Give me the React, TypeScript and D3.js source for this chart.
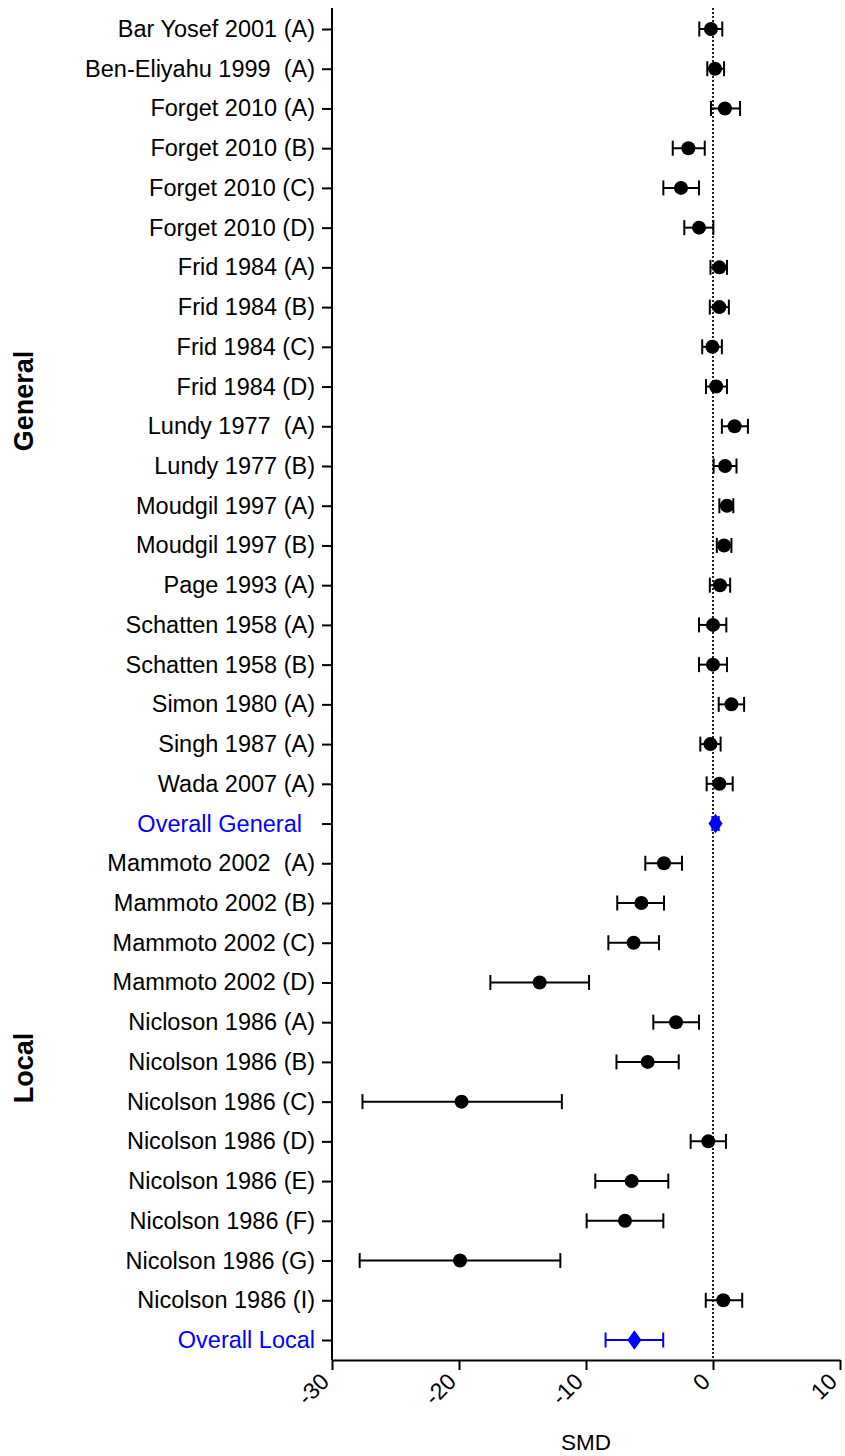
import { useRef, useEffect } from 'react';
import * as d3 from 'd3';

const studies = [
  'Bar Yosef 2001 (A)', 'Ben-Eliyahu 1999  (A)', 'Forget 2010 (A)', 'Forget 2010 (B)',
  'Forget 2010 (C)', 'Forget 2010 (D)', 'Frid 1984 (A)', 'Frid 1984 (B)', 'Frid 1984 (C)',
  'Frid 1984 (D)', 'Lundy 1977  (A)', 'Lundy 1977 (B)', 'Moudgil 1997 (A)', 'Moudgil 1997 (B)',
  'Page 1993 (A)', 'Schatten 1958 (A)', 'Schatten 1958 (B)', 'Simon 1980 (A)', 'Singh 1987 (A)',
  'Wada 2007 (A)', 'Overall General  ', 'Mammoto 2002  (A)', 'Mammoto 2002 (B)',
  'Mammoto 2002 (C)', 'Mammoto 2002 (D)', 'Nicloson 1986 (A)', 'Nicolson 1986 (B)',
  'Nicolson 1986 (C)', 'Nicolson 1986 (D)', 'Nicolson 1986 (E)', 'Nicolson 1986 (F)',
  'Nicolson 1986 (G)', 'Nicolson 1986 (I)', 'Overall Local',
];
const smd = [
  -0.16, 0.16, 0.94, -1.94, -2.52, -1.1, 0.5, 0.5, -0.05, 0.25, 1.7, 0.95, 1.1, 0.87, 0.55,
  0, 0, 1.45, -0.2, 0.5, 0.2, -3.86, -5.64, -6.25, -13.65, -2.91, -5.14, -19.8, -0.37, -6.4,
  -6.93, -19.92, 0.81, -6.19,
];
const lower = [
  -1.08, -0.45, -0.16, -3.17, -3.91, -2.26, -0.2, -0.25, -0.85, -0.55, 0.7, 0.05, 0.5, 0.3, -0.25,
  -1.1, -1.1, 0.45, -1.0, -0.5, -0.05, -5.33, -7.54, -8.24, -17.53, -4.7, -7.6, -27.6, -1.76, -9.27,
  -9.95, -27.82, -0.57, -8.46,
];
const upper = [
  0.73, 0.87, 2.13, -0.65, -1.1, 0.03, 1.1, 1.25, 0.7, 1.1, 2.75, 1.85, 1.6, 1.45, 1.35,
  1.05, 1.1, 2.45, 0.6, 1.55, 0.45, -2.44, -3.86, -4.25, -9.76, -1.1, -2.7, -11.9, 1.02, -3.52,
  -3.91, -12.02, 2.3, -3.92,
];
const overallRows = ['Overall General  ', 'Overall Local'];
const xTicks = [-30, -20, -10, 0, 10];

export default function App() {
  const svgRef = useRef<SVGSVGElement | null>(null);

  useEffect(() => {
    if (!svgRef.current) return;
    const svg = d3.select(svgRef.current);
    svg.selectAll('*').remove();

    const left = 332, right = 840, top = 8, bottom = 1360;
    const font = 'Arial, "Liberation Sans", sans-serif';

    const x = d3.scaleLinear().domain([-30, 10]).range([left, right]);
    const y = d3.scalePoint<string>().domain(studies).range([29, 1340]);

    const rows = studies.map((s, i) => ({
      label: s, est: smd[i], lo: lower[i], hi: upper[i], overall: overallRows.includes(s),
    }));

    // zero reference line
    svg.append('line')
      .attr('x1', x(0)).attr('x2', x(0))
      .attr('y1', top).attr('y2', bottom)
      .attr('stroke', '#222').attr('stroke-width', 2)
      .attr('stroke-dasharray', '2,2');

    // y axis
    const yAxis = svg.append('g')
      .attr('transform', `translate(${left},0)`)
      .call(d3.axisLeft(y).tickSize(10).tickSizeOuter(0).tickPadding(7));
    yAxis.select('.domain').remove();
    yAxis.append('line')
      .attr('x1', 0).attr('x2', 0).attr('y1', top).attr('y2', bottom)
      .attr('stroke', '#000').attr('stroke-width', 2);
    yAxis.selectAll('.tick line').attr('stroke', '#000').attr('stroke-width', 2);
    yAxis.selectAll<SVGTextElement, string>('.tick text')
      .attr('font-family', font)
      .attr('font-size', 23.5)
      .style('white-space', 'pre')
      .attr('fill', d => (overallRows.includes(d) ? '#0000ff' : '#000'));

    // x axis
    const xAxis = svg.append('g')
      .attr('transform', `translate(0,${bottom})`)
      .call(d3.axisBottom(x).tickValues(xTicks).tickSize(10).tickSizeOuter(0)
        .tickFormat(d => String(d)));
    xAxis.select('.domain').attr('stroke', '#000').attr('stroke-width', 2);
    xAxis.selectAll('.tick line').attr('stroke', '#000').attr('stroke-width', 2);
    xAxis.selectAll('.tick text')
      .attr('font-family', font)
      .attr('font-size', 23)
      .attr('fill', '#000')
      .attr('text-anchor', 'end')
      .attr('dy', 0)
      .attr('y', 0)
      .attr('transform', 'translate(-2,23) rotate(-45)');

    svg.append('text')
      .attr('x', (left + right) / 2).attr('y', 1450)
      .attr('text-anchor', 'middle')
      .attr('font-family', font).attr('font-size', 22.5)
      .text('SMD');

    // group labels
    svg.append('text')
      .attr('transform', 'translate(33,401) rotate(-90)')
      .attr('text-anchor', 'middle')
      .attr('font-family', font).attr('font-size', 27).attr('font-weight', 'bold')
      .text('General');
    svg.append('text')
      .attr('transform', 'translate(33,1068) rotate(-90)')
      .attr('text-anchor', 'middle')
      .attr('font-family', font).attr('font-size', 27).attr('font-weight', 'bold')
      .text('Local');

    // confidence intervals
    const ci = svg.append('g');
    rows.forEach(d => {
      const cy = y(d.label) as number;
      const col = d.overall ? '#0000ff' : '#000';
      ci.append('line')
        .attr('x1', x(d.lo)).attr('x2', x(d.hi)).attr('y1', cy).attr('y2', cy)
        .attr('stroke', col).attr('stroke-width', 2);
      [d.lo, d.hi].forEach(v => {
        ci.append('line')
          .attr('x1', x(v)).attr('x2', x(v)).attr('y1', cy - 7.5).attr('y2', cy + 7.5)
          .attr('stroke', col).attr('stroke-width', 2);
      });
    });

    // points
    svg.append('g').selectAll('circle')
      .data(rows.filter(d => !d.overall))
      .enter()
      .append('circle')
      .attr('cx', d => x(d.est))
      .attr('cy', d => y(d.label) as number)
      .attr('r', 7)
      .attr('fill', '#000');

    const diamond = d3.symbol().type(d3.symbolDiamond).size(110);
    svg.append('g').selectAll('path')
      .data(rows.filter(d => d.overall))
      .enter()
      .append('path')
      .attr('d', diamond)
      .attr('transform', d => `translate(${x(d.est)},${y(d.label)}) scale(1.25,1)`)
      .attr('fill', '#0000ff');
  }, []);

  return (
    <svg
      ref={svgRef}
      width={845}
      height={1456}
      style={{ position: 'absolute', left: 0, top: 0, background: '#fff' }}
    />
  );
}
